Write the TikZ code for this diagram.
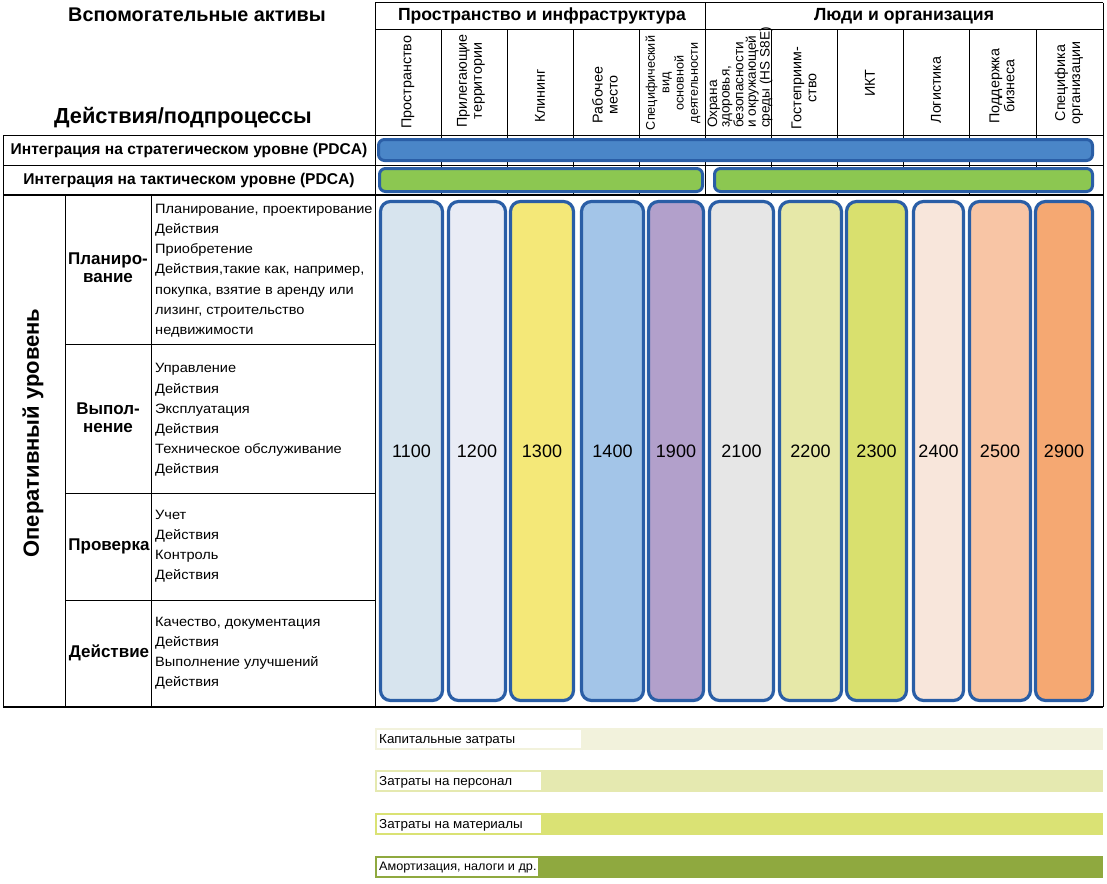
\documentclass[tikz,border=0pt]{standalone}
\usepackage{fontspec}
\setmainfont{Liberation Sans}
\newfontfamily\actfont[FakeStretch=1.08]{Liberation Sans}
\newfontfamily\costfont[FakeStretch=1.03]{Liberation Sans}
\definecolor{boxblue}{HTML}{2A5EA6}
\definecolor{stratblue}{HTML}{4A86C8}
\definecolor{tactgreen}{HTML}{8CC751}
\definecolor{f1}{HTML}{D7E4EE}
\definecolor{f2}{HTML}{E9ECF5}
\definecolor{f3}{HTML}{F4E878}
\definecolor{f4}{HTML}{A3C5E8}
\definecolor{f5}{HTML}{B2A0CB}
\definecolor{f6}{HTML}{E6E6E6}
\definecolor{f7}{HTML}{E6E8A8}
\definecolor{f8}{HTML}{D9E06E}
\definecolor{f9}{HTML}{F8E6DB}
\definecolor{f10}{HTML}{F8C5A5}
\definecolor{f11}{HTML}{F5A872}
\definecolor{b1}{HTML}{F2F2DC}
\definecolor{b2}{HTML}{E5E9B0}
\definecolor{b3}{HTML}{DAE274}
\definecolor{b4}{HTML}{8FA93F}
\begin{document}
\begin{tikzpicture}[x=1pt,y=-1pt,
  gridline/.style={draw=black,line width=1pt},
  thickline/.style={draw=black,line width=1.8pt},
  colbox/.style={draw=boxblue,line width=3.2pt,rounded corners=10pt,minimum height=499pt,inner sep=0pt,font=\fontsize{18}{18}\selectfont},
  intbar/.style={draw=boxblue,line width=3pt,rounded corners=6pt,inner sep=0pt},
  colhdr/.style={rotate=90,align=center,inner sep=0pt,font=\fontsize{14.3}{15}\selectfont},
  grphdr/.style={font=\bfseries\fontsize{17.6}{17.6}\selectfont,inner sep=0pt},
  title/.style={inner sep=0pt},
  rowlbl/.style={font=\bfseries\fontsize{17}{18}\selectfont,align=center,inner sep=0pt},
  acttxt/.style={font=\actfont\fontsize{13.5}{20.2}\selectfont,align=left,anchor=west,inner sep=0pt},
  intlbl/.style={font=\bfseries\fontsize{15.6}{15.6}\selectfont,inner sep=0pt},
  costbar/.style={inner sep=0pt,minimum height=22pt,minimum width=728pt,anchor=west},
  costbox/.style={fill=white,inner sep=0pt,minimum height=18pt,anchor=west},
  costlbl/.style={inner sep=0pt,anchor=west,font=\costfont\fontsize{13}{13}\selectfont},
]
\useasboundingbox (0,0) rectangle (1107,883);
\fill[white] (0,0) rectangle (1107,883);

% grid
\draw[gridline] (375,3) -- (1103,3);
\draw[gridline] (375,30) -- (1103,30);
\draw[gridline] (375,3) -- (375,707);
\draw[gridline] (1103,3) -- (1103,707);
\draw[gridline] (705,3) -- (705,195);
\foreach \x in {441,507,573,639,771,837,903,969,1036}
  \draw[gridline] (\x,30) -- (\x,195);
\draw[gridline] (3,135) -- (1103,135);
\draw[gridline] (3,165) -- (1103,165);
\draw[thickline] (3,195) -- (1103,195);
\draw[thickline] (3,707) -- (1103,707);
\draw[gridline] (3,135) -- (3,707);
\draw[gridline] (65,195) -- (65,707);
\draw[gridline] (151,195) -- (151,707);
\draw[gridline] (65,344) -- (375,344);
\draw[gridline] (65,493) -- (375,493);
\draw[gridline] (65,600) -- (375,600);

% titles
\node[title,font=\bfseries\fontsize{19.8}{19.8}\selectfont] (t1) at (197,15) {Вспомогательные активы};
\node[title,font=\bfseries\fontsize{21.8}{21.8}\selectfont] (t2) at (183,118) {Действия/подпроцессы};
\node[grphdr] (g1) at (542,16) {Пространство и инфраструктура};
\node[grphdr] (g2) at (904,16) {Люди и организация};

% column headers
\node[colhdr] (h1) at (408,82) {Пространство};
\node[colhdr] (h2) at (471,81) {Прилегающие\\территории};
\node[colhdr] (h3) at (540,96) {Клининг};
\node[colhdr] (h4) at (605,95) {Рабочее\\место};
\node[colhdr,font=\fontsize{12.6}{14.3}\selectfont] (h5) at (673,83) {Специфический\\вид\\основной\\деятельности};
\node[colhdr,align=left,anchor=west,font=\fontsize{13.6}{12.5}\selectfont] (h6) at (740,128) {Охрана\\здоровья,\\безопасности\\и окружающей\\среды (HS S8E)};
\node[colhdr] (h7) at (804,88) {Гостеприим-\\ство};
\node[colhdr] (h8) at (870,83) {ИКТ};
\node[colhdr] (h9) at (936,90) {Логистика};
\node[colhdr] (h10) at (1002,86) {Поддержка\\бизнеса};
\node[colhdr] (h11) at (1069,83) {Специфика\\организации};

% integration rows
\node[intlbl] (i1) at (189,150) {Интеграция на стратегическом уровне (PDCA)};
\node[intlbl] (i2) at (189,180) {Интеграция на тактическом уровне (PDCA)};
\node[intbar,fill=stratblue,minimum width=714pt,minimum height=21pt] (sb) at (735.5,150) {};
\node[intbar,fill=tactgreen,minimum width=323pt,minimum height=23pt] (tb1) at (541,180) {};
\node[intbar,fill=tactgreen,minimum width=378pt,minimum height=23pt] (tb2) at (903.5,180) {};

% operational level
\node[rotate=90,font=\bfseries\fontsize{22}{22}\selectfont,inner sep=0pt] (op) at (33,433) {Оперативный уровень};
\node[rowlbl] (r1) at (108,268) {Планиро-\\вание};
\node[rowlbl] (r2) at (108,418) {Выпол-\\нение};
\node[rowlbl] (r3) at (109,546) {Проверка};
\node[rowlbl] (r4) at (109,653) {Действие};

\node[acttxt] (a1) at (155,270.5) {Планирование, проектирование\\Действия\\Приобретение\\Действия,такие как, например,\\покупка, взятие в аренду или\\лизинг, строительство\\недвижимости};
\node[acttxt] (a2) at (155,420) {Управление\\Действия\\Эксплуатация\\Действия\\Техническое обслуживание\\Действия};
\node[acttxt] (a3) at (155,546) {Учет\\Действия\\Контроль\\Действия};
\node[acttxt] (a4) at (155,653) {Качество, документация\\Действия\\Выполнение улучшений\\Действия};

% column boxes
\node[colbox,fill=f1,minimum width=62pt] (c1) at (411.5,451) {1100};
\node[colbox,fill=f2,minimum width=57pt] (c2) at (477,451) {1200};
\node[colbox,fill=f3,minimum width=63pt] (c3) at (542,451) {1300};
\node[colbox,fill=f4,minimum width=62pt] (c4) at (612.5,451) {1400};
\node[colbox,fill=f5,minimum width=55pt] (c5) at (676,451) {1900};
\node[colbox,fill=f6,minimum width=64pt] (c6) at (741.5,451) {2100};
\node[colbox,fill=f7,minimum width=62pt] (c7) at (810.5,451) {2200};
\node[colbox,fill=f8,minimum width=60pt] (c8) at (876.5,451) {2300};
\node[colbox,fill=f9,minimum width=50pt] (c9) at (938.5,451) {2400};
\node[colbox,fill=f10,minimum width=61pt] (c10) at (1000,451) {2500};
\node[colbox,fill=f11,minimum width=57pt] (c11) at (1064,451) {2900};

% cost bars
\node[costbar,fill=b1] (k1) at (375,739) {};
\node[costbox,minimum width=204pt] (k1b) at (377,739) {};
\node[costlbl] (k1l) at (379,740) {Капитальные затраты};
\node[costbar,fill=b2] (k2) at (375,781) {};
\node[costbox,minimum width=164pt] (k2b) at (377,781) {};
\node[costlbl] (k2l) at (379,782) {Затраты на персонал};
\node[costbar,fill=b3] (k3) at (375,824) {};
\node[costbox,minimum width=164pt] (k3b) at (377,824) {};
\node[costlbl] (k3l) at (379,825) {Затраты на материалы};
\node[costbar,fill=b4] (k4) at (375,866.5) {};
\node[costbox,minimum width=161pt] (k4b) at (377,866.5) {};
\node[costlbl,font=\costfont\fontsize{12.3}{12.3}\selectfont] (k4l) at (379,867.5) {Амортизация, налоги и др.};
\end{tikzpicture}
\end{document}
